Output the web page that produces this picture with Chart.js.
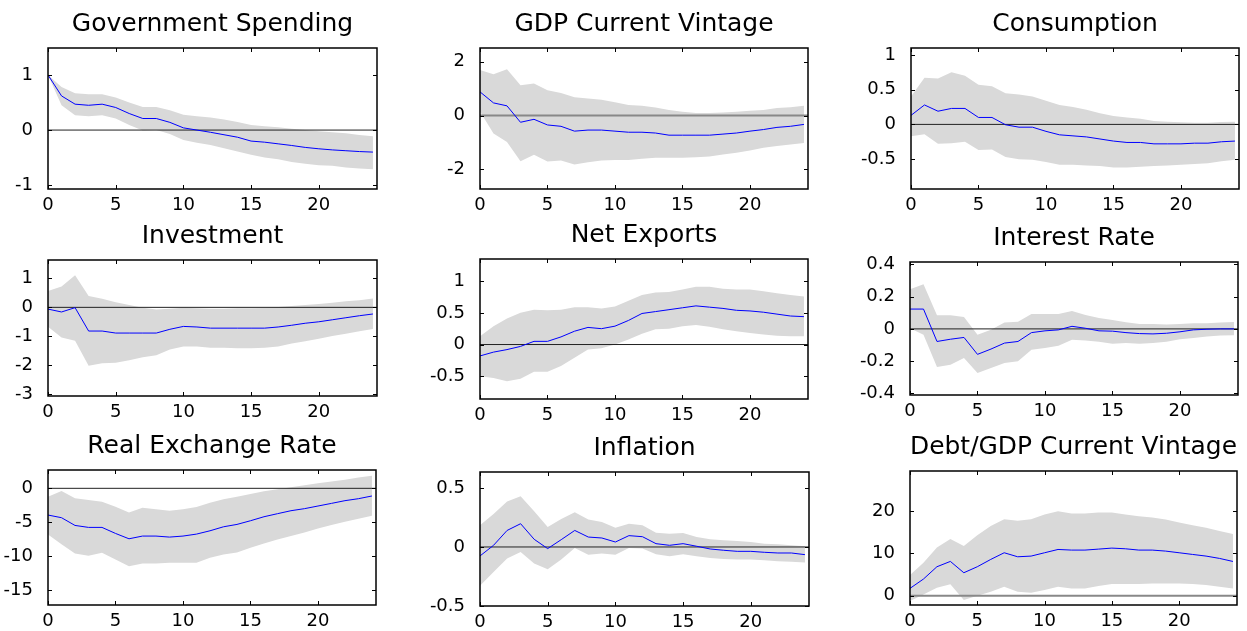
<!DOCTYPE html>
<html><head><meta charset="utf-8">
<script src="https://cdn.jsdelivr.net/npm/chart.js@4.4.1/dist/chart.umd.min.js"></script>
<style>
html,body{margin:0;padding:0;background:#fff;overflow:hidden;width:1247px;height:631px;}
canvas{position:absolute;}
</style></head><body>
<script>
const horizon = [0,1,2,3,4,5,6,7,8,9,10,11,12,13,14,15,16,17,18,19,20,21,22,23,24];
const xTicks = [0,5,10,15,20];

const govMean  = [1.00,0.62,0.47,0.45,0.47,0.41,0.30,0.21,0.21,0.14,0.04,0.00,-0.04,-0.085,-0.13,-0.20,-0.22,-0.25,-0.28,-0.315,-0.34,-0.36,-0.375,-0.39,-0.40];
const govUpper = [1.00,0.78,0.67,0.65,0.65,0.59,0.50,0.42,0.42,0.36,0.28,0.25,0.23,0.19,0.145,0.09,0.07,0.05,0.025,0.00,-0.02,-0.04,-0.06,-0.09,-0.11];
const govLower = [1.00,0.45,0.27,0.25,0.27,0.21,0.09,-0.01,0.00,-0.07,-0.18,-0.23,-0.27,-0.33,-0.39,-0.45,-0.50,-0.53,-0.58,-0.61,-0.64,-0.65,-0.68,-0.70,-0.71];

const gdpMean  = [0.88,0.47,0.36,-0.25,-0.14,-0.35,-0.40,-0.58,-0.54,-0.54,-0.58,-0.62,-0.62,-0.65,-0.73,-0.73,-0.73,-0.73,-0.69,-0.65,-0.58,-0.52,-0.44,-0.40,-0.33];
const gdpUpper = [1.69,1.53,1.72,1.13,1.19,0.94,0.84,0.68,0.63,0.59,0.49,0.39,0.36,0.30,0.21,0.14,0.09,0.09,0.11,0.14,0.18,0.21,0.28,0.31,0.36];
const gdpLower = [0.15,-0.67,-0.98,-1.70,-1.46,-1.71,-1.67,-1.82,-1.74,-1.67,-1.65,-1.65,-1.61,-1.57,-1.57,-1.57,-1.55,-1.52,-1.45,-1.38,-1.30,-1.20,-1.13,-1.08,-1.02];

const consMean  = [0.13,0.28,0.19,0.23,0.23,0.10,0.10,-0.005,-0.04,-0.04,-0.10,-0.15,-0.165,-0.18,-0.21,-0.24,-0.26,-0.26,-0.28,-0.28,-0.28,-0.27,-0.27,-0.25,-0.24];
const consUpper = [0.40,0.67,0.66,0.75,0.70,0.57,0.55,0.45,0.43,0.40,0.34,0.28,0.25,0.21,0.16,0.12,0.10,0.08,0.05,0.04,0.03,0.025,0.025,0.035,0.04];
const consLower = [-0.17,-0.14,-0.28,-0.27,-0.25,-0.37,-0.36,-0.47,-0.50,-0.51,-0.54,-0.58,-0.58,-0.59,-0.60,-0.62,-0.62,-0.61,-0.60,-0.59,-0.58,-0.57,-0.56,-0.53,-0.51];

const invMean  = [-0.06,-0.16,-0.01,-0.82,-0.82,-0.89,-0.89,-0.89,-0.89,-0.76,-0.66,-0.68,-0.72,-0.72,-0.72,-0.72,-0.72,-0.68,-0.62,-0.55,-0.50,-0.43,-0.36,-0.29,-0.23];
const invUpper = [0.57,0.72,1.11,0.39,0.30,0.18,0.08,-0.01,-0.07,-0.05,-0.01,-0.03,-0.05,-0.05,-0.03,-0.03,-0.02,0.01,0.05,0.08,0.12,0.16,0.21,0.25,0.31];
const invLower = [-0.67,-1.04,-1.16,-2.02,-1.94,-1.92,-1.83,-1.73,-1.66,-1.46,-1.36,-1.36,-1.40,-1.40,-1.42,-1.42,-1.40,-1.36,-1.25,-1.17,-1.09,-0.99,-0.91,-0.83,-0.75];

const nxMean  = [-0.18,-0.12,-0.08,-0.03,0.05,0.05,0.12,0.21,0.27,0.25,0.29,0.38,0.49,0.52,0.55,0.58,0.61,0.59,0.57,0.54,0.53,0.51,0.48,0.45,0.44];
const nxUpper = [0.13,0.29,0.41,0.50,0.55,0.54,0.55,0.59,0.59,0.57,0.60,0.69,0.78,0.82,0.83,0.87,0.91,0.91,0.88,0.87,0.87,0.84,0.81,0.78,0.76];
const nxLower = [-0.50,-0.53,-0.58,-0.54,-0.43,-0.43,-0.34,-0.21,-0.08,-0.06,0.00,0.08,0.17,0.24,0.25,0.29,0.31,0.28,0.24,0.21,0.18,0.16,0.14,0.13,0.13];

const irMean  = [0.123,0.123,-0.078,-0.064,-0.053,-0.158,-0.125,-0.088,-0.078,-0.023,-0.012,-0.006,0.016,0.004,-0.012,-0.014,-0.023,-0.029,-0.031,-0.027,-0.018,-0.006,-0.002,0.0,0.0];
const irUpper = [0.246,0.277,0.084,0.084,0.074,-0.037,-0.006,0.039,0.045,0.092,0.092,0.092,0.111,0.086,0.068,0.055,0.041,0.031,0.031,0.027,0.031,0.035,0.035,0.039,0.043];
const irLower = [0.004,-0.037,-0.236,-0.222,-0.181,-0.273,-0.242,-0.211,-0.201,-0.129,-0.119,-0.105,-0.068,-0.072,-0.080,-0.092,-0.088,-0.092,-0.088,-0.080,-0.064,-0.057,-0.047,-0.041,-0.039];

const rerMean  = [-3.94,-4.33,-5.47,-5.76,-5.76,-6.65,-7.44,-7.04,-7.04,-7.19,-7.04,-6.75,-6.26,-5.67,-5.32,-4.78,-4.19,-3.74,-3.30,-3.00,-2.61,-2.22,-1.82,-1.53,-1.13];
const rerUpper = [-1.23,-0.39,-1.48,-1.72,-1.97,-2.71,-3.55,-2.86,-3.10,-3.30,-3.10,-2.76,-2.12,-1.63,-1.23,-0.84,-0.44,-0.15,0.15,0.44,0.74,0.99,1.28,1.58,1.87];
const rerLower = [-6.80,-8.23,-9.60,-9.95,-9.50,-10.50,-11.48,-11.08,-11.08,-10.98,-10.98,-10.98,-10.25,-9.75,-9.46,-8.77,-8.13,-7.54,-7.04,-6.50,-5.91,-5.42,-4.93,-4.48,-4.04];

const infMean  = [-0.076,0.014,0.14,0.197,0.065,-0.014,0.062,0.14,0.084,0.076,0.042,0.096,0.087,0.028,0.014,0.028,0.006,-0.017,-0.028,-0.037,-0.037,-0.045,-0.051,-0.051,-0.065];
const infUpper = [0.183,0.28,0.385,0.43,0.303,0.169,0.236,0.295,0.233,0.211,0.163,0.197,0.183,0.121,0.112,0.118,0.084,0.065,0.056,0.051,0.042,0.028,0.022,0.014,0.006];
const infLower = [-0.329,-0.211,-0.098,-0.042,-0.14,-0.188,-0.107,-0.008,-0.065,-0.056,-0.065,-0.008,-0.014,-0.062,-0.079,-0.062,-0.079,-0.093,-0.101,-0.107,-0.107,-0.112,-0.121,-0.126,-0.132];

const debtMean  = [1.73,3.94,6.85,8.11,5.43,6.85,8.58,10.16,9.21,9.37,10.16,10.94,10.79,10.79,11.02,11.26,11.10,10.79,10.79,10.55,10.16,9.76,9.37,8.82,8.10];
const debtUpper = [4.88,7.80,11.42,13.39,11.73,14.33,16.46,18.11,17.72,18.11,19.21,20.00,19.45,19.45,19.69,19.69,19.21,18.82,18.50,18.03,17.32,16.69,16.06,15.28,14.57];
const debtLower = [-1.26,0.31,1.89,2.68,-1.02,0.00,0.94,2.13,0.94,0.71,1.34,2.13,1.73,1.73,2.28,2.76,2.76,2.76,2.91,2.91,2.91,2.76,2.52,2.13,1.73];

const govTicks = [-1,0,1];
const gdpTicks = [-2,0,2];
const consTicks = [-0.5,0,0.5,1];
const invTicks = [-3,-2,-1,0,1];
const nxTicks = [-0.5,0,0.5,1];
const irTicks = [-0.4,-0.2,0,0.2,0.4];
const rerTicks = [-15,-10,-5,0];
const infTicks = [-0.5,0,0.5];
const debtTicks = [0,10,20];

const RP = 5, TH = 39, XH = 30;
const FONT = "'DejaVu Sans', sans-serif";

const panels = [
  {title:'Government Spending', mean:govMean, upper:govUpper, lower:govLower, yMin:-1.07, yMax:1.49, ticks:govTicks, box:[48,48,377,189], zc:'#222', zw:1},
  {title:'GDP Current Vintage', mean:gdpMean, upper:gdpUpper, lower:gdpLower, yMin:-2.73, yMax:2.51, ticks:gdpTicks, box:[480,48,808,189], zc:'#888', zw:2},
  {title:'Consumption', mean:consMean, upper:consUpper, lower:consLower, yMin:-0.93, yMax:1.10, ticks:consTicks, box:[911,48,1239,189], zc:'#222', zw:1},
  {title:'Investment', mean:invMean, upper:invUpper, lower:invLower, yMin:-3.07, yMax:1.64, ticks:invTicks, box:[48,260,377,396], zc:'#222', zw:1},
  {title:'Net Exports', mean:nxMean, upper:nxUpper, lower:nxLower, yMin:-0.86, yMax:1.35, ticks:nxTicks, box:[480,259,808,399], zc:'#222', zw:1},
  {title:'Interest Rate', mean:irMean, upper:irUpper, lower:irLower, yMin:-0.41, yMax:0.415, ticks:irTicks, box:[910,262,1238,395], zc:'#222', zw:1},
  {title:'Real Exchange Rate', mean:rerMean, upper:rerUpper, lower:rerLower, yMin:-17.2, yMax:2.7, ticks:rerTicks, box:[48,470,376,605], zc:'#222', zw:1},
  {title:'Inflation', mean:infMean, upper:infUpper, lower:infLower, yMin:-0.5, yMax:0.635, ticks:infTicks, box:[480,472,809,606], zc:'#222', zw:1},
  {title:'Debt/GDP Current Vintage', mean:debtMean, upper:debtUpper, lower:debtLower, yMin:-2.2, yMax:29.5, ticks:debtTicks, box:[910,471,1237,605], zc:'#888', zw:2}
];

const frameTicks = {
  id: 'frameTicks',
  beforeDatasetDraw(chart, args, opts) {
    if (args.index !== 0) return;
    const {ctx, chartArea: a} = chart;
    const y0 = chart.scales.y.getPixelForValue(0);
    ctx.save();
    ctx.strokeStyle = opts.zeroColor; ctx.lineWidth = opts.zeroWidth;
    ctx.beginPath(); ctx.moveTo(a.left, y0); ctx.lineTo(a.right, y0); ctx.stroke();
    ctx.restore();
  },
  afterDraw(chart) {
    const {ctx, chartArea: a, scales: {x, y}} = chart;
    ctx.save();
    ctx.strokeStyle = '#000'; ctx.lineWidth = 1;
    ctx.beginPath();
    x.ticks.forEach(t => {
      const px = Math.round(x.getPixelForValue(t.value)) + 0.5;
      ctx.moveTo(px, a.bottom); ctx.lineTo(px, a.bottom - 4);
      ctx.moveTo(px, a.top); ctx.lineTo(px, a.top + 4);
    });
    y.ticks.forEach(t => {
      const py = Math.round(y.getPixelForValue(t.value)) + 0.5;
      ctx.moveTo(a.left, py); ctx.lineTo(a.left + 4, py);
      ctx.moveTo(a.right, py); ctx.lineTo(a.right - 4, py);
    });
    ctx.stroke();
    ctx.lineWidth = 1.5;
    ctx.strokeRect(a.left, a.top, a.right - a.left, a.bottom - a.top);
    ctx.restore();
  }
};

const pts = arr => horizon.map((h, i) => ({x: h, y: arr[i]}));

panels.forEach(p => {
  const [l, t, r, b] = p.box;
  const yw = Math.min(62, l);
  const cv = document.createElement('canvas');
  const w = r - l + yw + RP, h = b - t + TH + XH;
  cv.width = w; cv.height = h;
  cv.style.left = (l - yw) + 'px'; cv.style.top = (t - TH) + 'px';
  cv.style.width = w + 'px'; cv.style.height = h + 'px';
  document.body.appendChild(cv);
  new Chart(cv, {
    type: 'line',
    data: {datasets: [
      {data: pts(p.mean), borderColor: '#0000ff', borderWidth: 1, pointRadius: 0, fill: false, tension: 0},
      {data: pts(p.upper), borderColor: 'rgba(0,0,0,0)', borderWidth: 0, pointRadius: 0, backgroundColor: '#d9d9d9', fill: '+1', tension: 0},
      {data: pts(p.lower), borderColor: 'rgba(0,0,0,0)', borderWidth: 0, pointRadius: 0, fill: false, tension: 0}
    ]},
    options: {
      responsive: false, animation: false, events: [],
      layout: {padding: {left: 0, right: RP, top: 0, bottom: 0}},
      plugins: {
        legend: {display: false}, tooltip: {enabled: false},
        title: {display: true, text: p.title, fullSize: false, color: '#000',
                font: {family: FONT, size: 25, weight: 'normal', lineHeight: 1.2},
                padding: {top: 0, bottom: 9}},
        frameTicks: {zeroColor: p.zc, zeroWidth: p.zw}
      },
      scales: {
        x: {type: 'linear', min: 0, max: 24.3,
            grid: {display: false}, border: {display: false},
            ticks: {color: '#000', font: {family: FONT, size: 18}, padding: -2, autoSkip: false, maxRotation: 0, callback: v => String(v)},
            afterBuildTicks: s => { s.ticks = xTicks.map(v => ({value: v})); },
            afterFit: s => { s.height = XH; }},
        y: {type: 'linear', min: p.yMin, max: p.yMax,
            grid: {display: false}, border: {display: false},
            ticks: {color: '#000', font: {family: FONT, size: 18}, padding: 7, autoSkip: false, callback: v => String(v)},
            afterBuildTicks: s => { s.ticks = p.ticks.map(v => ({value: v})); },
            afterFit: s => { s.width = yw; }}
      }
    },
    plugins: [frameTicks]
  });
});
</script>
</body></html>
